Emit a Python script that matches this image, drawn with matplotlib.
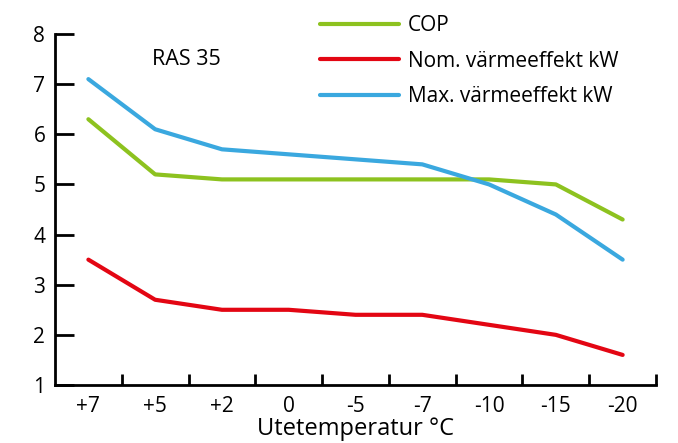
from matplotlib import pyplot as plt

plt.rcParams['font.family'] = ['Open Sans', 'DejaVu Sans']

#outdoor temperatures (categories)
temps = ['+7', '+5', '+2', '0', '-5', '-7', '-10', '-15', '-20']

cop = [6.3, 5.2, 5.1, 5.1, 5.1, 5.1, 5.1, 5.0, 4.3]
nom_heat = [3.5, 2.7, 2.5, 2.5, 2.4, 2.4, 2.2, 2.0, 1.6]
max_heat = [7.1, 6.1, 5.7, 5.6, 5.5, 5.4, 5.0, 4.4, 3.5]

fig = plt.figure(figsize=(6.78, 4.43), dpi=100)
ax = fig.add_axes([0.0811, 0.1309, 0.8865, 0.7924])

x = list(range(len(temps)))
ax.plot(x, cop, color='#8dc21f', lw=3, label='COP', solid_capstyle='round')
ax.plot(x, nom_heat, color='#e30613', lw=3, label='Nom. värmeeffekt kW', solid_capstyle='round')
ax.plot(x, max_heat, color='#3aa8df', lw=3, label='Max. värmeeffekt kW', solid_capstyle='round')

ax.set_xlim(-0.5, len(temps) - 0.5)
ax.set_ylim(1, 8)

ax.spines['top'].set_visible(False)
ax.spines['right'].set_visible(False)
ax.spines['left'].set_linewidth(2)
ax.spines['bottom'].set_linewidth(2)

ax.set_xticks(x)
ax.set_xticklabels(temps)
ax.set_xticks([i + 0.5 for i in x], minor=True)
ax.tick_params(axis='x', which='major', length=0, pad=8, labelsize=15)
ax.tick_params(axis='x', which='minor', direction='in', length=8, width=2)
ax.set_yticks(range(1, 9))
ax.tick_params(axis='y', direction='in', length=14, width=2, pad=7, labelsize=15)

ax.set_xlabel('Utetemperatur °C', fontsize=17, labelpad=0)
ax.text(0.95, 7.5, 'RAS 35', fontsize=15.5, va='center')

fig.legend(loc='upper left', bbox_to_anchor=(0.445, 1.008), frameon=False,
           fontsize=15, handlelength=3.75, handletextpad=0.43, labelspacing=0.7)

fig.savefig('out.png', dpi=100)
